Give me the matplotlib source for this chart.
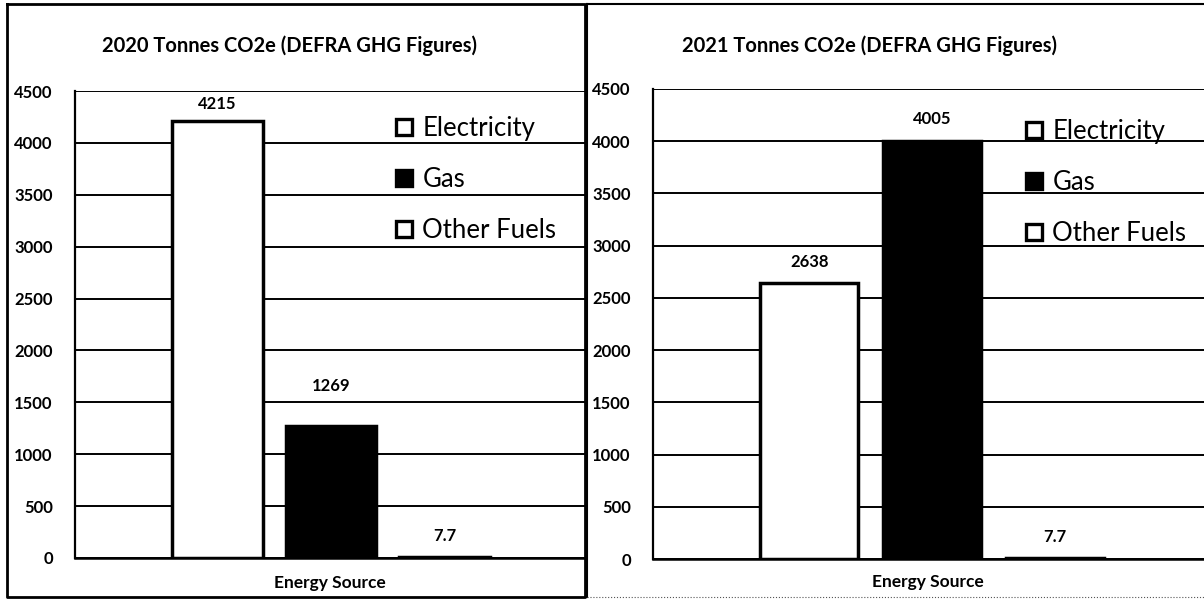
import matplotlib
matplotlib.use('Agg')
import matplotlib.pyplot as plt
from matplotlib.lines import Line2D

plt.rcParams['font.family'] = ['Lato', 'DejaVu Sans']

sources = ['Electricity', 'Gas', 'Other Fuels']
values_2020 = [4215, 1269, 7.7]
values_2021 = [2638, 4005, 7.7]
labels_2020 = ['4215', '1269', '7.7']
labels_2021 = ['2638', '4005', '7.7']
yticks = [0, 500, 1000, 1500, 2000, 2500, 3000, 3500, 4000, 4500]

face_colors = ['white', 'black', 'white']

W, H = 1204, 600
fig = plt.figure(figsize=(W / 100, H / 100), dpi=100)


def px_box(x0, y0, x1, y1):
    # pixel box (top-left origin) -> figure fraction rect
    return [x0 / W, 1 - y1 / H, (x1 - x0) / W, (y1 - y0) / H]


def fig_line(xs, ys, **kw):
    fig.add_artist(Line2D([x / W for x in xs], [1 - y / H for y in ys],
                          transform=fig.transFigure, **kw))


def draw_panel(rect, values, labels, pads, xlim, title, title_xy, xlab_xy, leg_xy):
    ax = fig.add_axes(rect)
    pos = [-1, 0, 1]
    ax.bar(pos, values, width=0.8, color=face_colors, edgecolor='black',
           linewidth=2.5, zorder=3)
    for p, v, lab, pad in zip(pos, values, labels, pads):
        ax.annotate(lab, (p, v), xytext=(0, pad), textcoords='offset pixels',
                    ha='center', va='center', fontsize=12, fontweight='bold')
    ax.set_xlim(*xlim)
    ax.set_ylim(0, 4500)
    ax.set_yticks(yticks)
    ax.set_yticklabels([str(t) for t in yticks], fontsize=12, fontweight='bold')
    ax.set_xticks([])
    ax.tick_params(axis='y', length=0, pad=16)
    ax.grid(axis='y', color='black', linewidth=1.4, zorder=0)
    for s in ['top', 'right']:
        ax.spines[s].set_visible(False)
    ax.spines['left'].set_linewidth(1.6)
    ax.spines['bottom'].set_linewidth(1.8)
    ax.set_axisbelow(True)

    handles = [Line2D([], [], marker='s', linestyle='none', markersize=11.5,
                      markerfacecolor=c, markeredgecolor='black',
                      markeredgewidth=2.4) for c in face_colors]
    ax.legend(handles, sources, loc='upper left',
              bbox_to_anchor=(leg_xy[0] / W, 1 - leg_xy[1] / H),
              bbox_transform=fig.transFigure, frameon=False,
              fontsize=18.5, handlelength=0.8, handletextpad=0.3,
              labelspacing=1.02, borderpad=0, borderaxespad=0)

    fig.text(title_xy[0] / W, 1 - title_xy[1] / H, title, ha='center',
             va='center', fontsize=14.5, fontweight='bold')
    fig.text(xlab_xy[0] / W, 1 - xlab_xy[1] / H, 'Energy Source', ha='center',
             va='center', fontsize=12.5, fontweight='bold')
    return ax


draw_panel(px_box(75, 91, 585, 558), values_2020, labels_2020, [17, 40, 21],
           (-2.255, 2.238), '2020 Tonnes CO2e (DEFRA GHG Figures)',
           (289, 46), (330, 583), (394, 116))
draw_panel(px_box(653, 89, 1204, 559), values_2021, labels_2021, [21, 22, 21],
           (-2.27, 2.21), '2021 Tonnes CO2e (DEFRA GHG Figures)',
           (869, 46), (928, 582), (1024, 119))

# outer frames of the two chart areas
fig_line([7, 585, 585, 7, 7], [4, 4, 597, 597, 4], color='black', linewidth=2)
fig_line([587, 1204], [4, 4], color='black', linewidth=1.5)
fig_line([587, 587], [4, 597], color='black', linewidth=1.5)
fig_line([587, 1204], [597, 597], color='#555555', linewidth=0.8, linestyle=':')

fig.savefig('out.png', dpi=100)
